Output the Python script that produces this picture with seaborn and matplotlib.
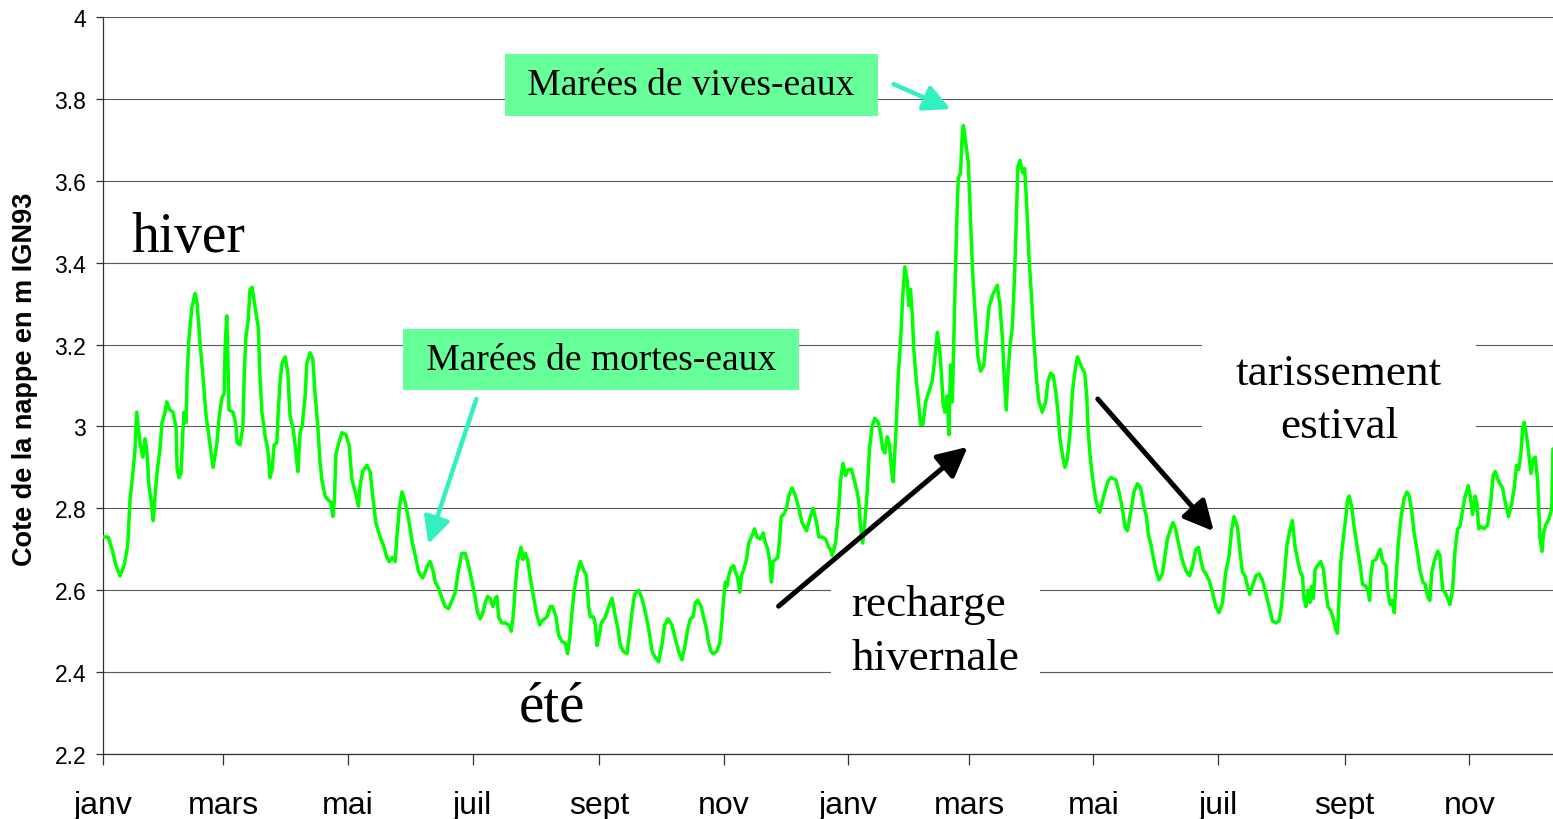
import numpy as np
import pandas as pd
import matplotlib
matplotlib.use("Agg")
import matplotlib.pyplot as plt
import matplotlib.dates as mdates
from matplotlib.ticker import FuncFormatter, MultipleLocator
import seaborn as sns

# Relevés piézométriques : jours écoulés depuis le 1er janvier de la première année
debut = "2005-01-01"
jours = [
    0.0, 2.5, 4.4, 6.4, 8.3, 10.3, 11.8, 12.3, 13.2, 14.7,
    15.7, 16.5, 18.1, 19.5, 20.6, 21.4, 22.5, 23.9, 24.6, 25.5,
    26.5, 27.9, 28.9, 30.4, 31.2, 32.8, 34.3, 35.8, 36.3, 37.2,
    38.2, 39.1, 39.7, 40.7, 41.2, 42.1, 43.5, 45.1, 46.1, 47.5,
    48.9, 50.5, 51.9, 53.9, 55.7, 56.8, 58.2, 59.3, 59.8, 60.6,
    61.2, 61.7, 63.7, 65.2, 65.7, 67.1, 68.5, 69.1, 69.9, 71.1,
    72.0, 73.0, 74.5, 76.1, 76.7, 77.8, 79.4, 80.7, 81.8, 82.8,
    83.8, 85.1, 85.8, 86.7, 87.7, 89.2, 90.5, 91.6, 93.1, 94.4,
    95.4, 96.5, 97.5, 99.0, 99.8, 101.4, 102.7, 103.9, 105.2, 106.3,
    107.3, 108.8, 110.3, 111.6, 112.5, 113.3, 114.0, 115.2, 117.0, 118.9,
    120.5, 121.9, 123.5, 125.1, 125.9, 127.1, 129.2, 130.8, 132.4, 133.6,
    135.7, 137.3, 139.0, 140.1, 141.6, 143.1, 143.9, 145.2, 146.4, 148.0,
    149.6, 151.3, 152.9, 154.5, 156.5, 157.8, 158.9, 160.2, 161.5, 162.7,
    164.3, 166.0, 167.6, 169.2, 170.9, 172.5, 174.1, 175.7, 177.4, 179.0,
    180.7, 182.3, 183.4, 184.7, 186.0, 187.2, 188.3, 189.6, 190.9, 192.1,
    192.9, 193.7, 195.3, 197.0, 198.6, 199.9, 201.0, 201.9, 203.0, 204.7,
    205.6, 206.8, 207.9, 209.2, 210.8, 212.2, 213.8, 214.9, 217.4, 219.0,
    220.1, 221.8, 223.1, 224.7, 226.4, 227.5, 228.5, 229.6, 230.9, 232.4,
    233.7, 235.3, 236.7, 237.8, 238.6, 240.2, 241.1, 241.9, 243.0, 244.0,
    246.0, 247.6, 249.3, 250.9, 252.2, 253.3, 254.9, 256.6, 257.9, 259.0,
    260.3, 262.3, 263.9, 265.6, 267.2, 268.9, 270.5, 272.1, 273.8, 275.0,
    276.7, 278.6, 280.3, 281.9, 283.5, 285.2, 286.3, 287.6, 288.9, 290.1,
    291.2, 292.9, 294.1, 295.5, 296.6, 297.8, 298.8, 300.4, 302.0, 303.2,
    303.9, 304.8, 305.6, 306.4, 307.6, 308.8, 309.7, 310.8, 311.8, 312.6,
    313.7, 315.1, 316.2, 317.9, 319.0, 320.3, 321.9, 323.3, 324.4, 325.5,
    326.5, 327.3, 328.1, 329.3, 330.4, 331.4, 332.1, 333.3, 334.7, 335.8,
    337.4, 339.1, 340.7, 342.3, 344.5, 346.4, 347.7, 349.4, 350.5, 352.2,
    353.8, 355.4, 356.2, 357.0, 358.7, 360.3, 361.2, 362.3, 363.6, 364.9,
    366.5, 368.1, 369.3, 370.1, 370.9, 372.0, 373.0, 374.2, 375.3, 376.6,
    377.9, 379.6, 380.7, 381.8, 382.8, 384.0, 385.1, 386.1, 386.9, 387.7,
    388.4, 389.4, 390.5, 391.6, 392.6, 393.8, 394.6, 395.4, 396.3, 397.0,
    397.9, 399.2, 400.3, 401.5, 402.8, 404.4, 406.0, 407.3, 408.5, 409.6,
    410.6, 411.3, 412.2, 413.4, 414.2, 415.0, 415.9, 416.6, 417.5, 418.3,
    418.8, 419.9, 420.8, 421.3, 422.4, 423.7, 424.3, 425.2, 426.1, 427.3,
    428.4, 429.7, 431.3, 432.7, 433.8, 435.5, 437.9, 439.2, 440.4, 441.2,
    442.3, 443.1, 444.1, 445.3, 446.4, 447.4, 448.0, 449.0, 450.2, 451.3,
    452.3, 453.4, 454.6, 455.8, 457.1, 458.3, 459.9, 461.6, 462.7, 464.0,
    465.3, 466.5, 467.6, 468.6, 469.8, 471.0, 472.2, 473.5, 474.7, 475.8,
    477.1, 478.7, 480.7, 481.7, 482.3, 483.3, 484.4, 486.1, 488.0, 490.0,
    492.0, 493.4, 495.9, 497.5, 499.1, 500.4, 501.6, 503.2, 504.8, 506.5,
    508.1, 509.7, 510.9, 511.9, 513.0, 514.1, 515.5, 517.1, 518.7, 520.0,
    521.2, 522.8, 523.9, 525.2, 526.6, 527.7, 529.0, 530.5, 532.1, 533.7,
    535.1, 536.4, 537.5, 538.7, 540.0, 541.6, 543.3, 544.9, 546.5, 548.2,
    549.8, 551.4, 552.7, 553.8, 555.5, 556.6, 557.9, 559.2, 560.4, 561.5,
    562.8, 564.5, 566.1, 567.7, 569.0, 571.0, 572.6, 574.3, 575.9, 577.0,
    578.3, 579.7, 581.3, 582.4, 583.6, 584.9, 586.2, 587.3, 588.1, 589.0,
    590.1, 591.1, 591.8, 592.7, 593.5, 594.7, 596.3, 597.6, 598.7, 599.8,
    601.2, 602.5, 603.6, 604.5, 605.4, 606.1, 607.4, 608.6, 609.4, 610.2,
    611.4, 612.6, 614.3, 615.6, 616.7, 618.4, 619.5, 620.2, 620.8, 621.7,
    623.3, 624.4, 625.4, 626.6, 628.2, 629.0, 630.3, 631.1, 632.3, 633.1,
    634.2, 635.5, 637.1, 638.5, 639.6, 640.9, 642.0, 643.7, 644.8, 646.2,
    647.4, 648.6, 649.7, 650.7, 651.8, 653.5, 654.6, 656.0, 657.2, 658.4,
    659.5, 660.8, 662.1, 663.3, 664.4, 665.7, 667.0, 668.5, 669.5, 670.6,
    671.9, 672.8, 673.6, 674.7, 676.3, 678.0, 679.6, 680.7, 681.7, 683.4,
    685.3, 686.6, 688.2, 689.9, 691.0, 692.2, 693.2, 694.3, 695.1, 695.9,
    697.1, 698.1, 699.2, 700.3, 701.3, 702.5, 703.0, 703.7, 704.6, 705.4,
    706.5, 708.1, 709.4, 710.0,
]
# Cote de la nappe (m IGN93)
cote = [
    2.73, 2.73, 2.70, 2.66, 2.635, 2.66, 2.70, 2.725, 2.82, 2.89,
    2.945, 3.035, 2.96, 2.925, 2.97, 2.945, 2.855, 2.805, 2.77, 2.83,
    2.89, 2.945, 3.01, 3.035, 3.06, 3.04, 3.035, 2.995, 2.895, 2.875,
    2.885, 2.985, 3.035, 3.01, 3.125, 3.215, 3.29, 3.325, 3.30, 3.205,
    3.125, 3.025, 2.975, 2.90, 2.955, 3.02, 3.07, 3.08, 3.195, 3.27,
    3.155, 3.04, 3.035, 3.00, 2.96, 2.955, 3.00, 3.115, 3.215, 3.26,
    3.335, 3.34, 3.29, 3.24, 3.14, 3.035, 2.975, 2.945, 2.875, 2.895,
    2.955, 2.96, 3.035, 3.11, 3.155, 3.17, 3.13, 3.025, 2.995, 2.94,
    2.89, 2.985, 3.00, 3.075, 3.155, 3.18, 3.165, 3.075, 3.00, 2.91,
    2.865, 2.83, 2.82, 2.815, 2.78, 2.82, 2.93, 2.955, 2.985, 2.98,
    2.955, 2.87, 2.84, 2.805, 2.855, 2.89, 2.905, 2.89, 2.815, 2.765,
    2.73, 2.71, 2.68, 2.67, 2.68, 2.67, 2.73, 2.805, 2.84, 2.815,
    2.775, 2.72, 2.685, 2.645, 2.63, 2.645, 2.66, 2.67, 2.65, 2.62,
    2.605, 2.58, 2.56, 2.555, 2.575, 2.595, 2.65, 2.69, 2.69, 2.66,
    2.62, 2.58, 2.545, 2.53, 2.545, 2.57, 2.585, 2.58, 2.56, 2.58,
    2.585, 2.535, 2.52, 2.52, 2.515, 2.50, 2.545, 2.61, 2.67, 2.705,
    2.675, 2.69, 2.675, 2.63, 2.585, 2.545, 2.515, 2.525, 2.535, 2.56,
    2.56, 2.535, 2.49, 2.475, 2.47, 2.445, 2.48, 2.545, 2.605, 2.645,
    2.67, 2.65, 2.635, 2.56, 2.535, 2.535, 2.515, 2.465, 2.49, 2.52,
    2.535, 2.56, 2.58, 2.535, 2.505, 2.465, 2.45, 2.445, 2.50, 2.545,
    2.59, 2.60, 2.58, 2.545, 2.505, 2.45, 2.435, 2.425, 2.47, 2.515,
    2.53, 2.515, 2.48, 2.45, 2.43, 2.47, 2.505, 2.53, 2.535, 2.57,
    2.575, 2.56, 2.535, 2.505, 2.47, 2.45, 2.445, 2.45, 2.47, 2.53,
    2.58, 2.62, 2.61, 2.635, 2.655, 2.66, 2.645, 2.63, 2.595, 2.635,
    2.65, 2.675, 2.715, 2.735, 2.75, 2.73, 2.725, 2.74, 2.715, 2.70,
    2.67, 2.62, 2.67, 2.675, 2.68, 2.73, 2.78, 2.785, 2.80, 2.83,
    2.85, 2.83, 2.80, 2.765, 2.745, 2.78, 2.80, 2.765, 2.73, 2.73,
    2.725, 2.705, 2.70, 2.685, 2.715, 2.80, 2.87, 2.91, 2.88, 2.895,
    2.895, 2.865, 2.84, 2.815, 2.755, 2.715, 2.765, 2.84, 2.945, 3.00,
    3.02, 3.01, 2.985, 2.945, 2.935, 2.975, 2.955, 2.895, 2.865, 2.935,
    3.00, 3.125, 3.205, 3.32, 3.39, 3.355, 3.295, 3.335, 3.27, 3.19,
    3.13, 3.065, 3.005, 3.005, 3.06, 3.085, 3.11, 3.165, 3.23, 3.19,
    3.125, 3.06, 3.035, 3.075, 2.98, 3.15, 3.06, 3.205, 3.40, 3.54,
    3.605, 3.62, 3.72, 3.735, 3.695, 3.645, 3.57, 3.45, 3.35, 3.255,
    3.17, 3.135, 3.15, 3.23, 3.29, 3.32, 3.345, 3.295, 3.215, 3.13,
    3.04, 3.13, 3.195, 3.245, 3.375, 3.54, 3.635, 3.65, 3.62, 3.63,
    3.54, 3.415, 3.32, 3.215, 3.115, 3.06, 3.035, 3.06, 3.11, 3.13,
    3.125, 3.085, 3.035, 2.97, 2.93, 2.90, 2.92, 2.985, 3.085, 3.13,
    3.17, 3.15, 3.13, 3.075, 2.995, 2.93, 2.88, 2.82, 2.79, 2.83,
    2.865, 2.875, 2.87, 2.84, 2.80, 2.755, 2.745, 2.79, 2.84, 2.86,
    2.85, 2.805, 2.78, 2.735, 2.715, 2.685, 2.65, 2.625, 2.64, 2.685,
    2.725, 2.75, 2.765, 2.75, 2.715, 2.69, 2.665, 2.645, 2.635, 2.665,
    2.70, 2.705, 2.675, 2.65, 2.64, 2.625, 2.595, 2.56, 2.545, 2.57,
    2.645, 2.685, 2.75, 2.78, 2.755, 2.70, 2.645, 2.635, 2.61, 2.59,
    2.61, 2.635, 2.64, 2.625, 2.60, 2.56, 2.525, 2.52, 2.525, 2.56,
    2.625, 2.71, 2.75, 2.77, 2.71, 2.675, 2.645, 2.635, 2.58, 2.56,
    2.60, 2.57, 2.61, 2.58, 2.65, 2.66, 2.67, 2.65, 2.60, 2.56,
    2.55, 2.53, 2.505, 2.495, 2.60, 2.67, 2.73, 2.78, 2.82, 2.83,
    2.805, 2.755, 2.70, 2.66, 2.615, 2.61, 2.595, 2.575, 2.635, 2.67,
    2.675, 2.69, 2.70, 2.67, 2.66, 2.60, 2.565, 2.575, 2.545, 2.625,
    2.71, 2.775, 2.825, 2.84, 2.83, 2.79, 2.74, 2.69, 2.65, 2.62,
    2.615, 2.585, 2.575, 2.645, 2.67, 2.695, 2.685, 2.60, 2.595, 2.58,
    2.565, 2.60, 2.70, 2.75, 2.755, 2.795, 2.83, 2.855, 2.83, 2.785,
    2.83, 2.81, 2.75, 2.755, 2.75, 2.76, 2.82, 2.88, 2.89, 2.865,
    2.85, 2.815, 2.78, 2.815, 2.85, 2.905, 2.895, 2.935, 2.995, 3.01,
    2.975, 2.935, 2.885, 2.92, 2.925, 2.865, 2.80, 2.725, 2.695, 2.74,
    2.76, 2.775, 2.80, 2.945,
]
mois = {1: "janv", 3: "mars", 5: "mai", 7: "juil", 9: "sept", 11: "nov"}
y_min, y_max, y_pas = 2.2, 4.0, 0.2

sns.set_theme(style="white")
plt.rcParams["font.family"] = ["Liberation Sans", "DejaVu Sans"]
plt.rcParams["text.color"] = "black"
SERIF = ["Liberation Serif", "DejaVu Serif"]

t0 = pd.Timestamp(debut)
df = pd.DataFrame({"date": t0 + pd.to_timedelta(jours, unit="D"), "cote": cote})


def jour(d):
    return mdates.date2num(t0 + pd.Timedelta(days=d))


fig = plt.figure(figsize=(15.53, 8.20), dpi=100)
ax = fig.add_axes([103 / 1553, 65 / 820, 1450 / 1553, 737 / 820])

sns.lineplot(data=df, x="date", y="cote", ax=ax, color="#00FF00", linewidth=2.5,
             estimator=None, sort=False, zorder=5)

ax.set_xlim(jour(jours[0]), jour(jours[-1]))
ax.set_ylim(y_min, y_max)
ax.yaxis.set_major_locator(MultipleLocator(y_pas))
ax.yaxis.set_major_formatter(FuncFormatter(lambda v, _: f"{round(v, 1):g}"))
ax.xaxis.set_major_locator(mdates.MonthLocator(bymonth=list(mois)))
ax.xaxis.set_major_formatter(FuncFormatter(lambda v, _: mois.get(mdates.num2date(v).month, "")))

ax.grid(axis="y", color="#5a5a5a", linewidth=0.8)
ax.grid(axis="x", visible=False)
ax.set_axisbelow(True)
for side in ("top", "right"):
    ax.spines[side].set_visible(False)
for side in ("left", "bottom"):
    ax.spines[side].set_color("#333333")
    ax.spines[side].set_linewidth(0.9)

ax.tick_params(axis="x", bottom=True, direction="out", length=8, width=0.9,
               color="#333333", pad=18, labelsize=23, labelcolor="black")
ax.tick_params(axis="y", left=True, direction="out", length=5, width=0.9,
               color="#333333", pad=7, labelsize=16.5, labelcolor="black")

ax.set_xlabel("")
ax.set_ylabel("Cote de la nappe en m IGN93", fontsize=19.5, fontweight="bold", color="black")
ax.yaxis.set_label_coords(-0.045, 0.51)

# Saisons et phases du cycle
ax.text(jour(13.7), 3.428, "hiver", family=SERIF, fontsize=40, ha="left", va="baseline", zorder=3)
ax.text(jour(203.8), 2.283, "été", family=SERIF, fontsize=41, ha="left", va="baseline", zorder=3)
ax.text(jour(366.5), 2.407, "recharge\nhivernale", family=SERIF, fontsize=32.5, ha="left",
        va="baseline", linespacing=1.45, zorder=3,
        bbox=dict(boxstyle="square,pad=0.45", fc="white", ec="none"))
ax.text(jour(605.2), 2.974, "tarissement\nestival", family=SERIF, fontsize=32.5, ha="center",
        va="baseline", multialignment="center", linespacing=1.42, zorder=3,
        bbox=dict(boxstyle="square,pad=0.75", fc="white", ec="none"))

# Marées
encadre = dict(boxstyle="square,pad=0.36", fc="#66FF99", ec="none")
ax.text(jour(288.1), 3.834, " Marées de vives-eaux ", family=SERIF, fontsize=27,
        ha="center", va="center", zorder=3, bbox=encadre)
ax.text(jour(244.0), 3.163, " Marées de mortes-eaux ", family=SERIF, fontsize=27,
        ha="center", va="center", zorder=3, bbox=encadre)

fleche_maree = dict(arrowstyle="-|>,head_length=0.8,head_width=0.4", color="#33F0C0",
                    lw=3.2, mutation_scale=20, shrinkA=0, shrinkB=0)
ax.annotate("", xy=(jour(415.0), 3.775), xytext=(jour(387.1), 3.836),
            arrowprops=fleche_maree, zorder=6)
ax.annotate("", xy=(jour(159.3), 2.713), xytext=(jour(182.8), 3.067),
            arrowprops=fleche_maree, zorder=6)

fleche_noire = dict(arrowstyle="-|>,head_length=0.9,head_width=0.45", color="black",
                    lw=3.6, mutation_scale=20, shrinkA=0, shrinkB=0)
ax.annotate("", xy=(jour(423.4), 2.95), xytext=(jour(330.8), 2.561),
            arrowprops=fleche_noire, zorder=6)
ax.annotate("", xy=(jour(543.9), 2.744), xytext=(jour(487.1), 3.067),
            arrowprops=fleche_noire, zorder=6)

fig.savefig("out.png", dpi=100)
